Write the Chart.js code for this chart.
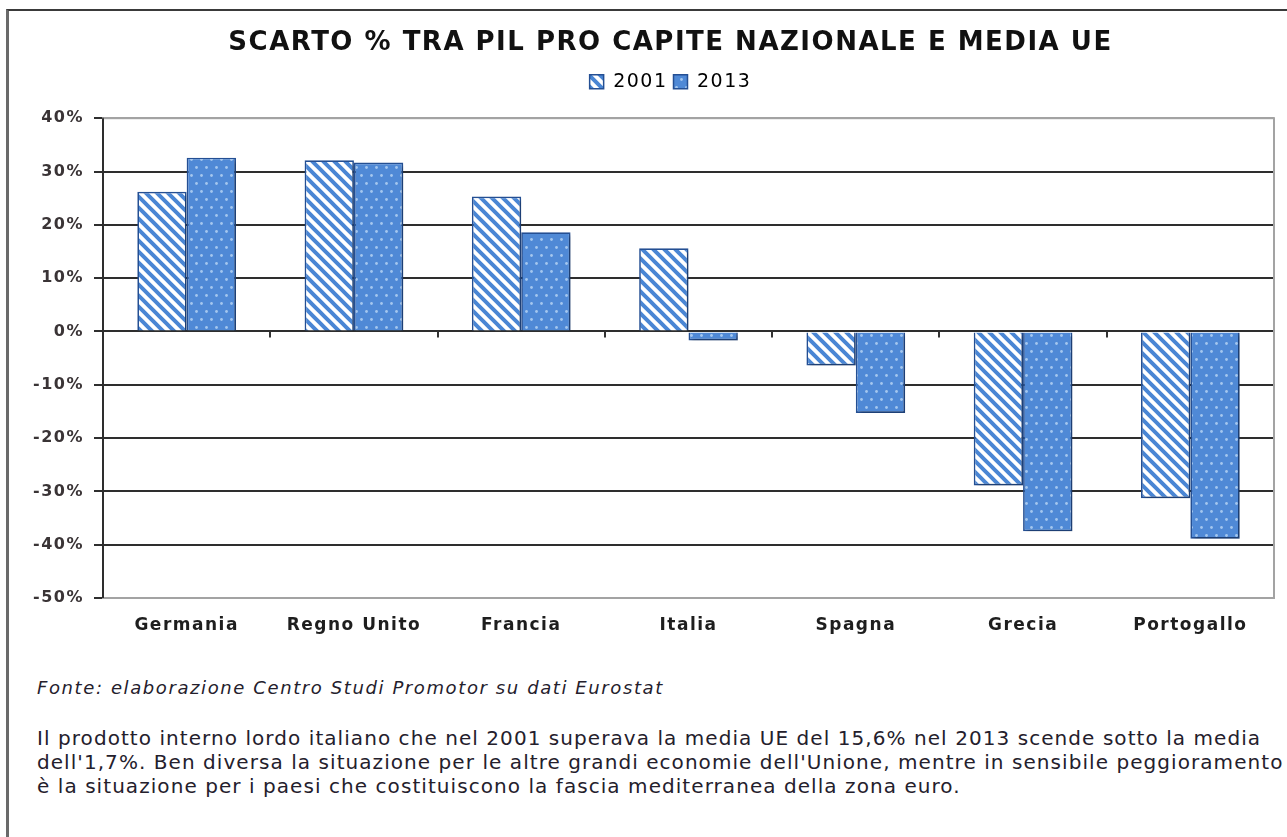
<!DOCTYPE html>
<html>
<head>
<meta charset="utf-8">
<script src="https://cdn.jsdelivr.net/npm/chart.js@4.4.1/dist/chart.umd.min.js"></script>
<style>
  html, body { margin: 0; padding: 0; background: #ffffff; }
  body { width: 1287px; height: 837px; position: relative; overflow: hidden; font-family: "DejaVu Sans", Verdana, sans-serif; }
  #frame { position: absolute; left: 6px; top: 9px; width: 1281px; height: 840px;
           border-top: 2px solid #3a3a3a; border-left: 3px solid #6a6a6a; }
  #wrap { position: absolute; left: 9px; top: 12px; width: 1278px; height: 634px; }
  .note { position: absolute; left: 37px; color: #24202c; line-height: 24px; white-space: nowrap; }
  #fonte { top: 676px; font-size: 18px; letter-spacing: 1.6px; font-style: italic; }
  #testo { top: 726px; font-size: 20px; letter-spacing: 1.06px; }
</style>
</head>
<body>
<div id="frame"></div>
<div id="wrap"><canvas id="c"></canvas></div>
<div class="note" id="fonte">Fonte: elaborazione Centro Studi Promotor su dati Eurostat</div>
<div class="note" id="testo">Il prodotto interno lordo italiano che nel 2001 superava la media UE del 15,6% nel 2013 scende sotto la media<br>dell'1,7%. Ben diversa la situazione per le altre grandi economie dell'Unione, mentre in sensibile peggioramento<br>è la situazione per i paesi che costituiscono la fascia mediterranea della zona euro.</div>
<script>
// Scarto % tra PIL pro capite nazionale e media UE
const paesi = ["Germania", "Regno Unito", "Francia", "Italia", "Spagna", "Grecia", "Portogallo"];
const valori2001 = [26.2, 32.1, 25.3, 15.6, -6.4, -28.9, -31.3];
const valori2013 = [32.6, 31.7, 18.6, -1.7, -15.3, -37.5, -38.9];
const etichetteSerie = ["2001", "2013"];
const tickY = [40, 30, 20, 10, 0, -10, -20, -30, -40, -50];

// Fill patterns: diagonal stripes and dotted blue
function stripePattern() {
  const s = 11;
  const c = document.createElement("canvas");
  c.width = s; c.height = s;
  const g = c.getContext("2d");
  g.fillStyle = "#ffffff";
  g.fillRect(0, 0, s, s);
  g.strokeStyle = "#4a86d4";
  g.lineWidth = 4;
  g.beginPath();
  g.moveTo(-s, 0); g.lineTo(s, 2 * s);
  g.moveTo(0, 0); g.lineTo(s, s);
  g.moveTo(0, -s); g.lineTo(2 * s, s);
  g.stroke();
  return g.createPattern(c, "repeat");
}
function dotPattern() {
  const w = 10, h = 16;
  const c = document.createElement("canvas");
  c.width = w; c.height = h;
  const g = c.getContext("2d");
  g.fillStyle = "#4f89d6";
  g.fillRect(0, 0, w, h);
  g.fillStyle = "#a4c6ee";
  [[2.5, 3.5], [7.5, 11.5]].forEach(([x, y]) => {
    g.beginPath(); g.arc(x, y, 1.4, 0, Math.PI * 2); g.fill();
  });
  return g.createPattern(c, "repeat");
}

// wide lettering for all chart text
const spaziatura = {
  id: "spaziatura",
  beforeUpdate(chart) { chart.ctx.letterSpacing = "1.5px"; },
  beforeDraw(chart) { chart.ctx.letterSpacing = "1.5px"; }
};

// extra room between legend and plot; title and legend sit a little right of centre
const spazioLegenda = {
  id: "spazioLegenda",
  beforeInit(chart) {
    const fit = chart.legend.fit;
    chart.legend.fit = function () { fit.call(this); this.height += 17; };
  },
  afterLayout(chart) {
    [chart.titleBlock, chart.legend].forEach(b => {
      if (b) { b.left += 22; b.right += 22; }
    });
  }
};

const bordoPlot = {
  id: "bordoPlot",
  beforeDatasetsDraw(chart) {
    const { ctx, chartArea: a } = chart;
    ctx.save();
    ctx.strokeStyle = "#a3a3a3";
    ctx.lineWidth = 2;
    ctx.strokeRect(a.left, a.top, a.right - a.left, a.bottom - a.top);
    ctx.strokeStyle = "#2e2e2e";
    ctx.beginPath(); ctx.moveTo(a.left, a.top); ctx.lineTo(a.left, a.bottom); ctx.stroke();
    ctx.restore();
  },
  beforeDatasetDraw(chart) {
    const ctx = chart.ctx;
    ctx.save();
    ctx.shadowColor = "rgba(0,0,0,0.22)";
    ctx.shadowOffsetX = 3;
    ctx.shadowOffsetY = 3;
    ctx.shadowBlur = 3;
  },
  afterDatasetDraw(chart) {
    chart.ctx.restore();
  },
  afterDatasetsDraw(chart) {
    // category separators on the zero line
    const { ctx, scales: { x, y } } = chart;
    const y0 = y.getPixelForValue(0);
    const step = x.getPixelForValue(1) - x.getPixelForValue(0);
    ctx.save();
    ctx.strokeStyle = "#333333";
    ctx.lineWidth = 2;
    for (let i = 0; i < paesi.length - 1; i++) {
      const px = Math.round(x.getPixelForValue(i) + step / 2);
      ctx.beginPath(); ctx.moveTo(px, y0); ctx.lineTo(px, y0 + 6); ctx.stroke();
    }
    ctx.restore();
  }
};

const bordoBarre = "#244f93";

new Chart(document.getElementById("c"), {
  type: "bar",
  data: {
    labels: paesi,
    datasets: [
      { label: etichetteSerie[0], data: valori2001, backgroundColor: stripePattern(), borderColor: bordoBarre, borderWidth: 1.7 },
      { label: etichetteSerie[1], data: valori2013, backgroundColor: dotPattern(), borderColor: bordoBarre, borderWidth: 1.7 }
    ]
  },
  options: {
    responsive: true,
    maintainAspectRatio: false,
    animation: false,
    categoryPercentage: 0.59,
    barPercentage: 1.0,
    layout: { padding: { left: 14, right: 13, top: 0, bottom: 0 } },
    plugins: {
      title: {
        display: true,
        text: "SCARTO % TRA PIL PRO CAPITE NAZIONALE E MEDIA UE",
        color: "#111111",
        font: { family: "DejaVu Sans", size: 26, weight: "bold" },
        padding: { top: 16, bottom: 7 }
      },
      legend: {
        display: true,
        position: "top",
        labels: {
          color: "#222222",
          font: { family: "DejaVu Sans", size: 19 },
          boxWidth: 14,
          boxHeight: 14,
          padding: 6,
          generateLabels(chart) {
            return chart.data.datasets.map((d, i) => ({
              text: d.label, fillStyle: d.backgroundColor, strokeStyle: bordoBarre,
              lineWidth: 1.5, datasetIndex: i, hidden: false
            }));
          }
        }
      },
      tooltip: { enabled: false }
    },
    scales: {
      x: {
        grid: { display: false, drawTicks: false },
        border: { display: false },
        ticks: { color: "#1e1e1e", font: { family: "DejaVu Sans", size: 17, weight: "bold" }, padding: 17 },
        afterFit(s) { s.height = 48; }
      },
      y: {
        min: -50, max: 40,
        afterBuildTicks(s) { s.ticks = tickY.map(v => ({ value: v })); },
        grid: {
          color: c => (c.tick && (c.tick.value === 40 || c.tick.value === -50)) ? "#a3a3a3" : "#2e2e2e",
          lineWidth: 2,
          tickLength: 9,
          tickColor: "#2e2e2e"
        },
        border: { display: true, color: "#2e2e2e", width: 2 },
        ticks: {
          color: "#3a3436",
          font: { family: "DejaVu Sans", size: 16, weight: "bold" },
          padding: 10,
          callback: v => v + "%"
        },
        afterFit(s) { s.width = 80; }
      }
    }
  },
  plugins: [spaziatura, spazioLegenda, bordoPlot]
});
</script>
</body>
</html>
